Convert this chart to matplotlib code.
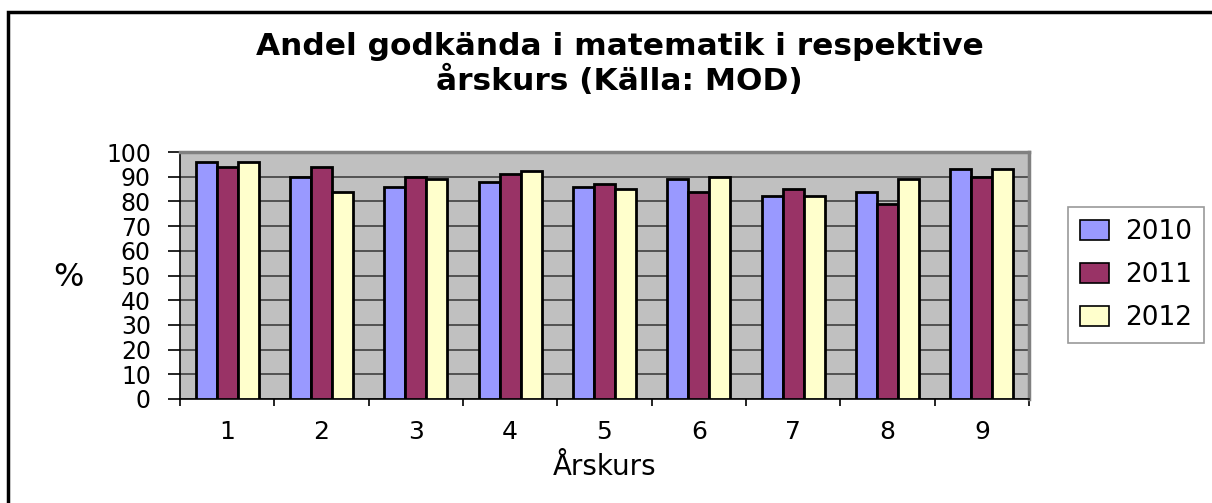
import matplotlib.pyplot as plt
import matplotlib.patches as mpatches
import numpy as np

plt.rcParams['font.family'] = ['DejaVu Sans']

grades = ["1", "2", "3", "4", "5", "6", "7", "8", "9"]
years = ["2010", "2011", "2012"]
v2010 = [96, 90, 86, 88, 86, 89, 82, 84, 93]
v2011 = [94, 94, 90, 91, 87, 84, 85, 79, 90]
v2012 = [96, 84, 89, 92.5, 85, 90, 82, 89, 93]
colors = ['#9999FF', '#993366', '#FFFFCC']

W, H = 1212, 503
fig = plt.figure(figsize=(W / 100, H / 100), dpi=100)

# chart frame (runs off to the right and bottom like the original)
fig.patches.append(mpatches.Rectangle((8 / W, -0.1), 1.2, 1 - 12 / H + 0.1,
                                      transform=fig.transFigure, fill=False,
                                      edgecolor='black', linewidth=2.5))

ax = fig.add_axes([180 / W, 1 - 399 / H, (1029 - 180) / W, (399 - 152) / H])
ax.set_facecolor('#C0C0C0')

x = np.arange(len(grades))
bw = 0.222
for i, (vals, c, lab) in enumerate(zip([v2010, v2011, v2012], colors, years)):
    ax.bar(x + (i - 1) * bw, vals, width=bw, color=c, edgecolor='black',
           linewidth=2, label=lab, zorder=3)

ax.set_xlim(-0.5, len(grades) - 0.5)
ax.set_ylim(0, 100)
ax.set_yticks(range(0, 101, 10))
ax.set_yticklabels([str(v) for v in range(0, 101, 10)], fontsize=17)
ax.yaxis.grid(True, color='#404040', linewidth=1.2, zorder=1)
ax.set_xticks(x)
ax.set_xticklabels(grades, fontsize=18)
ax.set_xticks(np.arange(-0.5, len(grades), 1), minor=True)
ax.tick_params(axis='x', which='major', length=0, pad=15)
ax.tick_params(axis='x', which='minor', length=5, width=1.2, direction='out')
ax.tick_params(axis='y', length=9, width=1.2, direction='out', pad=12)

for s in ['top', 'right']:
    ax.spines[s].set_color('#808080')
    ax.spines[s].set_linewidth(2.5)
for s in ['left', 'bottom']:
    ax.spines[s].set_color('black')
    ax.spines[s].set_linewidth(1.2)

fig.text(620 / W, 1 - 55 / H, "Andel godkända i matematik i respektive",
         ha='center', va='baseline', fontsize=22.5, fontweight='bold')
fig.text(619 / W, 1 - 90 / H, "årskurs (Källa: MOD)",
         ha='center', va='baseline', fontsize=22.5, fontweight='bold')
fig.text(68 / W, 1 - 277 / H, "%", ha='center', va='center', fontsize=23)
fig.text(605 / W, 1 - 467 / H, "Årskurs", ha='center', va='center', fontsize=20)

leg = fig.legend(loc='center', bbox_to_anchor=(1136 / W, 1 - 275 / H),
                 fontsize=19, frameon=True, fancybox=False, edgecolor='#808080',
                 handlelength=1.1, handleheight=0.8, labelspacing=0.65,
                 borderpad=0.45, handletextpad=0.6)
leg.get_frame().set_linewidth(1.2)
for h in leg.legend_handles:
    h.set_linewidth(1.2)

fig.savefig('out.png', dpi=100)
